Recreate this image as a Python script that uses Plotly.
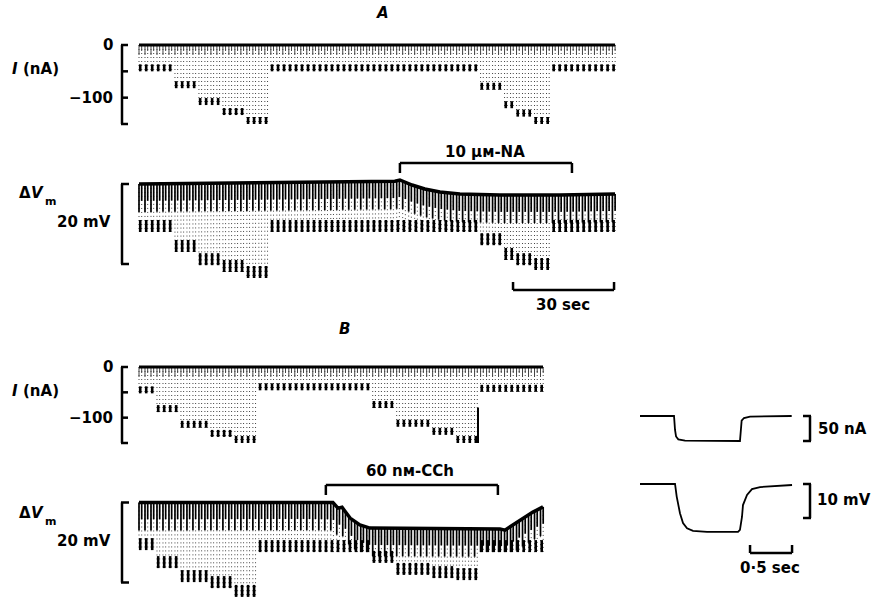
import numpy as np
import plotly.graph_objects as go

W, H = 873, 599
FONT = "DejaVu Sans"

# ---------------- values ----------------
PULSE_PERIOD = 1.78   # s between hyperpolarizing command pulses
PULSE_DUR = 0.8       # s, pulse duration

I_TICKS = [0, -50, -100, -150]          # nA
I_TICK_TEXT = ["0", "", "−100", ""]
V_SCALE = 20                            # mV scale bar
T_SCALE = 30                            # s scale bar

# Panel A (10 µM noradrenaline)
A_counts = [6, 4, 4, 4, 4, 35, 4, 2, 3, 3, 11]
A_I = [-50, -82, -114, -133, -150, -50, -85, -120, -136, -150, -50]
A_Vtip = [-12.0, -17.0, -20.3, -22.0, -23.5, -12.0, -15.3, -19.0, -20.3, -21.5, -12.0]
A_base_t = [0, 47.8, 76.0, 77.5, 79.0, 81.1, 84.9, 89.4, 95.3, 107.2, 125.0, 141.4]
A_base_v = [0, 0.4, 0.7, 1.0, 0.5, -0.25, -1.25, -2.0, -2.5, -2.75, -2.75, -2.5]
A_drug = [77.5, 128.6]
A_end = 141.1

# Panel B (60 nM carbachol)
B_counts = [3, 4, 5, 4, 4, 19, 4, 6, 4, 4, 11]
B_I = [-52, -89, -120, -138, -150, -46, -81, -118, -134, -150, -49]
B_Vtip = [-11.9, -16.4, -19.9, -21.4, -23.6, -12.4, -15.1, -18.1, -18.9, -19.4, -12.4]
B_base_t = [0, 47.8, 57.6, 59.1, 60.3, 62.7, 65.6, 68.6, 107.2, 108.7, 111.1, 114.1, 117.0, 120.0]
B_base_v = [0, 0.1, 0, -1.4, -1.2, -3.9, -5.6, -6.4, -6.6, -6.9, -5.6, -3.9, -2.4, -1.1]
B_drug = [55.5, 106.6]
B_artifact_t = 100.7
B_artifact_I = [-80, -150]

# Inset: single pulse on expanded time base
INS_I_t = [0, 0.405, 0.417, 0.429, 0.456, 0.536, 1.19, 1.199, 1.21, 1.238, 1.31, 1.806]
INS_I = [0, 0, -28, -41, -46.7, -49.3, -50, -21, -9.3, -4, -1.3, 0]
INS_V_t = [0, 0.417, 0.437, 0.476, 0.512, 0.56, 0.631, 0.798, 1.167, 1.19, 1.214,
           1.226, 1.274, 1.333, 1.429, 1.583, 1.81]
INS_V = [0, 0, -3.7, -8.6, -11.5, -13.0, -13.8, -14.1, -14.1, -13.5, -9.7,
         -6.2, -3.2, -1.5, -0.9, -0.6, -0.3]
INS_SCALE_I = 50    # nA
INS_SCALE_V = 10    # mV
INS_SCALE_T = 0.5   # s
INS_END = 1.81

# ---------------- figure ----------------
fig = go.Figure()


def make_axes(idx, xpx, ypx, t0px, kx, v0px, ky):
    s = '' if idx == 1 else str(idx)
    fig.update_layout(**{
        'xaxis' + s: dict(domain=[xpx[0] / W, xpx[1] / W],
                          range=[(xpx[0] - t0px) / kx, (xpx[1] - t0px) / kx],
                          visible=False, fixedrange=True, anchor='y' + s),
        'yaxis' + s: dict(domain=[1 - ypx[1] / H, 1 - ypx[0] / H],
                          range=[(v0px - ypx[1]) / ky, (v0px - ypx[0]) / ky],
                          visible=False, fixedrange=True, anchor='x' + s),
    })
    return 'x' + s, 'y' + s


def seg(xs, ys, xa, ya, color='black', width=1, dash='solid'):
    fig.add_trace(go.Scatter(x=xs, y=ys, xaxis=xa, yaxis=ya, mode='lines',
                             line=dict(color=color, width=width, dash=dash),
                             hoverinfo='skip', showlegend=False, connectgaps=False))


def draw_pulses(counts, tips, base_fn, xa, ya, ky, upper_px, blob_px, upper_color, upper_w):
    sx, sy, ux, uy, bx, by = [], [], [], [], [], []
    k = 0
    for n, tip in zip(counts, tips):
        for _ in range(n):
            t = k * PULSE_PERIOD
            k += 1
            for j, tt in enumerate((t, t + PULSE_DUR)):
                b = base_fn(tt)
                sx += [tt, tt, None]
                sy += [b, tip, None]
                ue = max(tip, b - upper_px * (1.0 if j == 0 else 0.6) / ky)
                ux += [tt, tt, None]
                uy += [b, ue, None]
            tc = t + PULSE_DUR * 0.45
            bx += [tc, tc, None]
            by += [min(base_fn(tc), tip + blob_px / ky), tip, None]
    seg(sx, sy, xa, ya, color='#444', width=1, dash='1px,3px')
    seg(ux, uy, xa, ya, color=upper_color, width=upper_w)
    seg(bx, by, xa, ya, color='black', width=2.6)


A_KX = 101 / 30.0
# Panel A axes
xA1, yA1 = make_axes(1, (130, 625), (38, 135), 139, A_KX, 45, 79 / 150.0)
xA2, yA2 = make_axes(2, (130, 625), (172, 290), 139, A_KX, 184, 4.0)
# Panel B axes
xB1, yB1 = make_axes(3, (130, 552), (358, 455), 139, A_KX, 367, 76 / 150.0)
xB2, yB2 = make_axes(4, (130, 552), (488, 599), 139, A_KX, 502.5, 4.0)
# Inset axes
xI1, yI1 = make_axes(5, (630, 800), (405, 452), 640, 84.0, 416, 0.5)
xI2, yI2 = make_axes(6, (630, 800), (472, 540), 640, 84.0, 484, 3.4)

zero = lambda t: 0.0
A_base = lambda t: float(np.interp(t, A_base_t, A_base_v))
B_base = lambda t: float(np.interp(t, B_base_t, B_base_v))

# current traces
draw_pulses(A_counts, A_I, zero, xA1, yA1, 79 / 150.0, 10, 7, '#444', 1)
seg([0, A_base_t[-1]], [0, 0], xA1, yA1, width=3)
draw_pulses(B_counts, B_I, zero, xB1, yB1, 76 / 150.0, 10, 7, '#444', 1)
seg([0, B_base_t[-1]], [0, 0], xB1, yB1, width=3)
seg([B_artifact_t, B_artifact_t], B_artifact_I, xB1, yB1, width=2)

# voltage traces
draw_pulses(A_counts, A_Vtip, A_base, xA2, yA2, 4.0, 28, 12, 'black', 1.7)
seg(A_base_t, A_base_v, xA2, yA2, width=3.5)
draw_pulses(B_counts, B_Vtip, B_base, xB2, yB2, 4.0, 28, 12, 'black', 1.7)
seg(B_base_t, B_base_v, xB2, yB2, width=3.5)

# inset traces
seg(INS_I_t, INS_I, xI1, yI1, width=1.8)
seg(INS_V_t, INS_V, xI2, yI2, width=1.8)

LW = 2.5
BL = dict(color='black', width=LW)


def line(**kw):
    fig.add_shape(type='line', line=BL, **kw)


def i_bracket(ya):
    line(xref='paper', yref=ya, x0=122 / W, x1=122 / W, y0=max(I_TICKS), y1=min(I_TICKS))
    for v in I_TICKS:
        line(xref='paper', yref=ya, x0=121 / W, x1=128 / W, y0=v, y1=v)


def v_bracket(ya):
    line(xref='paper', yref=ya, x0=122 / W, x1=122 / W, y0=0, y1=-V_SCALE)
    for v in (0, -V_SCALE):
        line(xref='paper', yref=ya, x0=121 / W, x1=129 / W, y0=v, y1=v)


def drug_bar(xa, t0, t1, ypx):
    line(xref=xa, yref='paper', x0=t0, x1=t1, y0=1 - ypx / H, y1=1 - ypx / H)
    for t in (t0, t1):
        line(xref=xa, yref='paper', x0=t, x1=t, y0=1 - ypx / H, y1=1 - (ypx + 10) / H)


def time_bar(xa, t0, t1, ypx, tick=8):
    line(xref=xa, yref='paper', x0=t0, x1=t1, y0=1 - ypx / H, y1=1 - ypx / H)
    for t in (t0, t1):
        line(xref=xa, yref='paper', x0=t, x1=t, y0=1 - ypx / H, y1=1 - (ypx - tick) / H)


def inset_bar(ya, v):
    line(xref='paper', yref=ya, x0=810 / W, x1=810 / W, y0=0, y1=-v)
    for y in (0, -v):
        line(xref='paper', yref=ya, x0=803 / W, x1=811 / W, y0=y, y1=y)


i_bracket(yA1)
i_bracket(yB1)
v_bracket(yA2)
v_bracket(yB2)
drug_bar(xA2, A_drug[0], A_drug[1], 163)
drug_bar(xB2, B_drug[0], B_drug[1], 485)
time_bar(xA2, A_end - T_SCALE, A_end, 290)
inset_bar(yI1, INS_SCALE_I)
inset_bar(yI2, INS_SCALE_V)
time_bar(xI2, INS_END - INS_SCALE_T, INS_END, 553, tick=8)


def text(s, xpx, ypx=None, yref='paper', yval=None, xanchor='center', size=15, style='normal'):
    y = 1 - ypx / H if yref == 'paper' else yval
    fig.add_annotation(text=s, x=xpx / W, xref='paper', y=y, yref=yref,
                       xanchor=xanchor, yanchor='middle', showarrow=False,
                       font=dict(family=FONT, size=size, color='black',
                                 weight='bold', style=style))


text('A', 382, 13, style='italic')
text('B', 344, 329, style='italic')
for ya, ylab in ((yA1, 69), (yB1, 391)):
    text('I', 10, ylab, xanchor='left', style='italic')
    text('(nA)', 21, ylab, xanchor='left')
    for v, lab in zip(I_TICKS, I_TICK_TEXT):
        if lab:
            text(lab, 115, yref=ya, yval=v, xanchor='right')
for yd in (193, 513):
    text('Δ', 17, yd, xanchor='left')
    text('V', 29, yd, xanchor='left', style='italic')
    text('m', 43, yd + 8, xanchor='left', size=11)
text('20 mV', 113, 222, xanchor='right')
text('20 mV', 113, 541, xanchor='right')
text('10 μм-NA', 485, 152)
text('30 sec', 563, 305)
text('60 nм-CCh', 410, 471)
text('50 nA', 816, 429, xanchor='left')
text('10 mV', 815, 500, xanchor='left')
text('0·5 sec', 770, 568)

fig.update_layout(width=W, height=H, margin=dict(l=0, r=0, t=0, b=0),
                  paper_bgcolor='white', plot_bgcolor='rgba(0,0,0,0)',
                  showlegend=False, font=dict(family=FONT, color='black'))

fig.write_html("out.html")
